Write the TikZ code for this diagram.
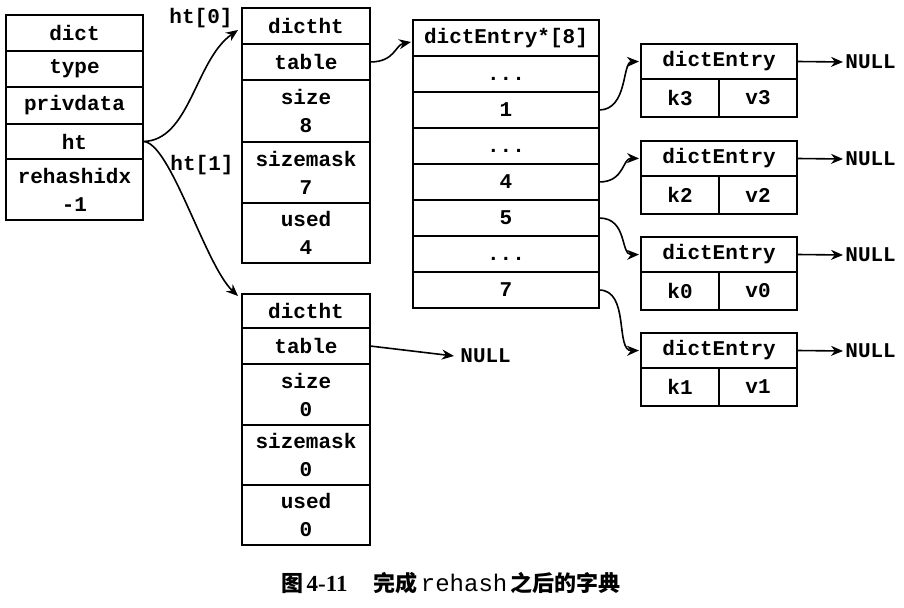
\documentclass[tikz,border=0pt]{standalone}
\usepackage{fontspec}
\usetikzlibrary{arrows.meta}
\newfontfamily\monof{Liberation Mono}
\newfontfamily\cjkf{Noto Sans CJK SC}
\newfontfamily\serf{Liberation Serif}
\newcommand{\dotsrow}{\vphantom{1}...}
\begin{document}
\begin{tikzpicture}[x=0.5pt,y=-0.5pt,
  cell/.style={draw, line width=1pt, inner sep=0pt, outer sep=0pt, anchor=north west, align=center,
    font=\monof\bfseries\fontsize{10.5}{14}\selectfont},
  lbl/.style={inner sep=0pt, font=\monof\bfseries\fontsize{10.5}{14}\selectfont},
  frame/.style={draw, line width=1.3pt},
  link/.style={line width=0.8pt, -{Stealth[length=6pt,width=5pt]}}]
\useasboundingbox (0,0) rectangle (904,608);
% dict
\node[cell, minimum width=68.5pt, minimum height=18pt] (dict) at (6,15) {dict};
\node[cell, minimum width=68.5pt, minimum height=18pt] (type) at (6,51) {type};
\node[cell, minimum width=68.5pt, minimum height=18.5pt] (priv) at (6,87) {privdata};
\node[cell, minimum width=68.5pt, minimum height=17.5pt] (ht) at (6,124) {ht};
\node[cell, minimum width=68.5pt, minimum height=30.5pt] (rh) at (6,159) {rehashidx\\-1};
\draw[frame] (dict.north west) rectangle (rh.south east);
% dictht 0
\node[cell, minimum width=64pt, minimum height=18pt] (a0) at (242,8) {dictht};
\node[cell, minimum width=64pt, minimum height=18pt] (a1) at (242,44) {table};
\node[cell, minimum width=64pt, minimum height=31pt] (a2) at (242,80) {size\\8};
\node[cell, minimum width=64pt, minimum height=30.5pt] (a3) at (242,142) {sizemask\\7};
\node[cell, minimum width=64pt, minimum height=30pt] (a4) at (242,203) {used\\4};
\draw[frame] (a0.north west) rectangle (a4.south east);
% dictht 1
\node[cell, minimum width=64pt, minimum height=17pt] (b0) at (242,294) {dictht};
\node[cell, minimum width=64pt, minimum height=18pt] (b1) at (242,328) {table};
\node[cell, minimum width=64pt, minimum height=30.5pt] (b2) at (242,364) {size\\0};
\node[cell, minimum width=64pt, minimum height=30pt] (b3) at (242,425) {sizemask\\0};
\node[cell, minimum width=64pt, minimum height=30pt] (b4) at (242,485) {used\\0};
\draw[frame] (b0.north west) rectangle (b4.south east);
% array
\node[cell, minimum width=93pt, minimum height=18pt] (t0) at (413,20) {dictEntry*[8]};
\node[cell, minimum width=93pt, minimum height=18pt] (t1) at (413,56) {\dotsrow};
\node[cell, minimum width=93pt, minimum height=18pt] (t2) at (413,92) {1};
\node[cell, minimum width=93pt, minimum height=18pt] (t3) at (413,128) {\dotsrow};
\node[cell, minimum width=93pt, minimum height=18pt] (t4) at (413,164) {4};
\node[cell, minimum width=93pt, minimum height=18pt] (t5) at (413,200) {5};
\node[cell, minimum width=93pt, minimum height=18pt] (t6) at (413,236) {\dotsrow};
\node[cell, minimum width=93pt, minimum height=18pt] (t7) at (413,272) {7};
\draw[frame] (t0.north west) rectangle (t7.south east);
% entries
\foreach \n/\y/\k/\v in {e1/44/k3/v3, e2/141/k2/v2, e3/237/k0/v0, e4/333/k1/v1}{
  \node[cell, minimum width=78pt, minimum height=17.5pt] (\n h) at (641,\y) {dictEntry};
  \node[cell, minimum width=39pt, minimum height=19pt] (\n k) at (641,\y+35) {\k};
  \node[cell, minimum width=39pt, minimum height=19pt] (\n v) at (719,\y+35) {\v};
  \draw[frame] (\n h.north west) rectangle (\n v.south east);
  \node[lbl, anchor=west] (\n n) at (845,\y+18) {NULL};
  \draw[link] (\n h.east) -- ([xshift=-1pt]\n n.west);
}
% labels
\node[lbl] (l0) at (201,18) {ht[0]};
\node[lbl] (l1) at (202,165) {ht[1]};
\node[lbl, anchor=west] (n1) at (460,356) {NULL};
% links
\draw[link] (ht.east) .. controls (190,141) and (195,60) .. ([xshift=-2pt,yshift=-2pt]a0.west);
\draw[link] (ht.east) .. controls (170,141) and (205,265) .. ([xshift=-2pt,yshift=-1pt]b0.north west);
\draw[link] (a1.east) .. controls (395,62) and (395,45) .. ([xshift=-1pt,yshift=-2pt]t0.west);
\draw[link] (b1.east) -- ([xshift=-3pt]n1.west);
\draw[link] (t2.east) .. controls (628,110) and (622,62) .. ([xshift=-1pt]e1h.west);
\draw[link] (t4.east) .. controls (625,182) and (622,158) .. ([xshift=-1pt]e2h.west);
\draw[link] (t5.east) .. controls (628,218) and (620,255) .. ([xshift=-1pt]e3h.west);
\draw[link] (t7.east) .. controls (630,290) and (615,351) .. ([xshift=-1pt]e4h.west);
% caption
\node[inner sep=0pt] (cap) at (451,583) {{\cjkf\bfseries\fontsize{11}{13}\selectfont 图}\,{\serf\bfseries\fontsize{11.5}{13}\selectfont 4-11}\hspace{13pt}{\cjkf\bfseries\fontsize{11}{13}\selectfont 完成}\,{\monof\fontsize{12}{13}\selectfont rehash}\,{\cjkf\bfseries\fontsize{11}{13}\selectfont 之后的字典}};
\end{tikzpicture}
\end{document}
